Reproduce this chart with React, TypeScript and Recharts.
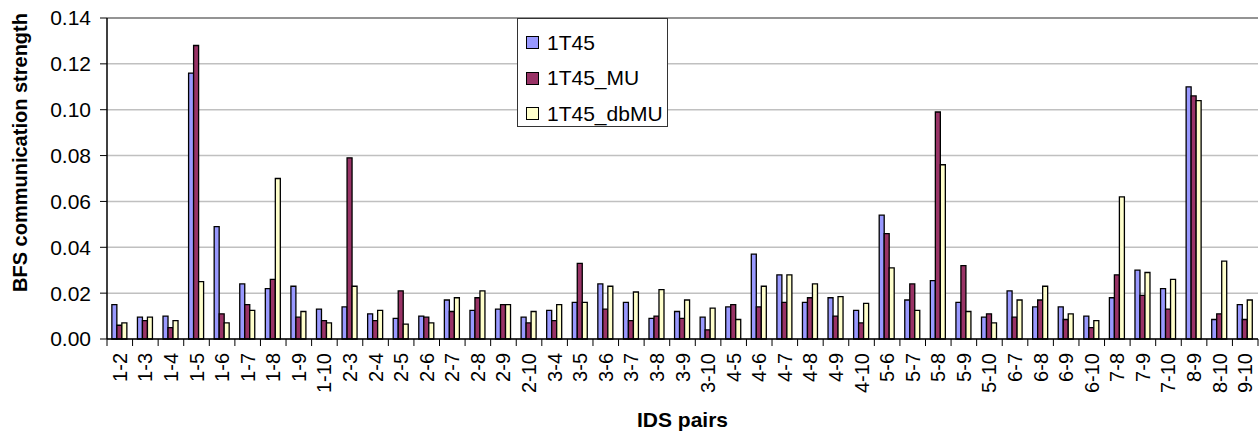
import React from 'react';
import { BarChart, Bar, XAxis, YAxis, CartesianGrid, Legend, ReferenceLine } from 'recharts';

const categories = ['1-2','1-3','1-4','1-5','1-6','1-7','1-8','1-9','1-10','2-3','2-4','2-5','2-6','2-7','2-8','2-9','2-10','3-4','3-5','3-6','3-7','3-8','3-9','3-10','4-5','4-6','4-7','4-8','4-9','4-10','5-6','5-7','5-8','5-9','5-10','6-7','6-8','6-9','6-10','7-8','7-9','7-10','8-9','8-10','9-10'];

const s1T45 = [0.015,0.0095,0.010,0.116,0.049,0.024,0.022,0.023,0.013,0.014,0.011,0.009,0.010,0.017,0.0125,0.013,0.0095,0.0125,0.016,0.024,0.016,0.009,0.012,0.0095,0.014,0.037,0.028,0.016,0.018,0.0125,0.054,0.017,0.0255,0.016,0.0095,0.021,0.014,0.014,0.010,0.018,0.030,0.022,0.110,0.0085,0.015];
const s1T45MU = [0.006,0.008,0.005,0.128,0.011,0.015,0.026,0.0095,0.008,0.079,0.008,0.021,0.0095,0.012,0.018,0.015,0.007,0.008,0.033,0.013,0.008,0.010,0.009,0.004,0.015,0.014,0.016,0.018,0.010,0.007,0.046,0.024,0.099,0.032,0.011,0.0095,0.017,0.0085,0.005,0.028,0.019,0.013,0.106,0.011,0.0085];
const s1T45dbMU = [0.007,0.0095,0.008,0.025,0.007,0.0125,0.070,0.012,0.007,0.023,0.0125,0.0065,0.007,0.018,0.021,0.015,0.012,0.015,0.016,0.023,0.0205,0.0215,0.017,0.0135,0.0085,0.023,0.028,0.024,0.0185,0.0155,0.031,0.0125,0.076,0.012,0.007,0.017,0.023,0.011,0.008,0.062,0.029,0.026,0.104,0.034,0.017];

const yTicks = [0, 0.02, 0.04, 0.06, 0.08, 0.10, 0.12, 0.14];

const seriesNames = ['1T45', '1T45_MU', '1T45_dbMU'];
const seriesColors = ['#9999FF', '#993366', '#FFFFCC'];

const data = categories.map((c, i) => ({
  name: c,
  [seriesNames[0]]: s1T45[i],
  [seriesNames[1]]: s1T45MU[i],
  [seriesNames[2]]: s1T45dbMU[i],
}));

const FONT = 'Liberation Sans, Arial, sans-serif';

const XTick = (props: any) => {
  const { x, y, payload, width, visibleTicksCount } = props;
  const band = width / visibleTicksCount;
  const left = x - band / 2;
  return (
    <g>
      <line x1={left} y1={y - 8} x2={left} y2={y - 1} stroke="#000" strokeWidth={1} />
      {payload.index === visibleTicksCount - 1 ? (
        <line x1={left + band} y1={y - 8} x2={left + band} y2={y - 1} stroke="#000" strokeWidth={1} />
      ) : null}
      <text
        x={0}
        y={0}
        transform={`translate(${x + 7},${y + 6}) rotate(-90)`}
        textAnchor="end"
        fontFamily={FONT}
        fontSize={20}
        fill="#000"
      >
        {payload.value}
      </text>
    </g>
  );
};

const YLabel = (props: any) => {
  const { viewBox } = props;
  const cy = viewBox.y + viewBox.height / 2 - 26;
  return (
    <text
      x={0}
      y={0}
      transform={`translate(20,${cy}) rotate(-90)`}
      textAnchor="middle"
      dominantBaseline="central"
      fontFamily={FONT}
      fontSize={20}
      fontWeight="bold"
      fill="#000"
    >
      BFS communication strength
    </text>
  );
};

const LegendContent = () => (
  <div
    style={{
      width: 151,
      height: 109,
      boxSizing: 'border-box',
      border: '1.5px solid #333',
      background: '#fff',
      fontFamily: FONT,
      fontSize: 21,
      paddingTop: 6,
    }}
  >
    {seriesNames.map((n, i) => (
      <div key={n} style={{ display: 'flex', alignItems: 'center', height: 35.5, paddingLeft: 8 }}>
        <span
          style={{
            display: 'inline-block',
            width: 11,
            height: 11,
            background: seriesColors[i],
            border: '1.5px solid #000',
            marginRight: 8,
          }}
        />
        <span>{n}</span>
      </div>
    ))}
  </div>
);

export default function App() {
  return (
    <div style={{ position: 'absolute', left: 0, top: 0, width: 1260, height: 431, background: '#fff' }}>
      <BarChart
        width={1260}
        height={431}
        data={data}
        margin={{ top: 18, right: 2, bottom: 0, left: 0 }}
        barCategoryGap="19%"
        barGap={0}
      >
        <CartesianGrid vertical={false} stroke="#C0C0C0" strokeWidth={1.5} />
        <XAxis
          dataKey="name"
          interval={0}
          height={92}
          tickLine={false}
          axisLine={{ stroke: '#000', strokeWidth: 1.5 }}
          tick={<XTick />}
          label={{ value: 'IDS pairs', position: 'insideBottom', offset: 4, fontFamily: FONT, fontSize: 21, fontWeight: 'bold', fill: '#000' }}
        />
        <YAxis
          domain={[0, 0.14]}
          ticks={yTicks}
          width={107}
          interval={0}
          tickFormatter={(v: number) => v.toFixed(2)}
          tickLine={{ stroke: '#000' }}
          tickSize={7}
          tickMargin={9}
          axisLine={{ stroke: '#000', strokeWidth: 1.5 }}
          tick={{ fontFamily: FONT, fontSize: 21, fill: '#000' }}
          label={<YLabel />}
        />
        <YAxis yAxisId="frame" orientation="right" width={0} tick={false} tickLine={false} axisLine={{ stroke: '#808080', strokeWidth: 1.5 }} />
        <ReferenceLine y={0.14} stroke="#808080" strokeWidth={1.5} />
        <Legend
          layout="vertical"
          verticalAlign="middle"
          align="center"
          content={<LegendContent />}
          wrapperStyle={{ position: 'absolute', left: 517, top: 18, width: 151, height: 109 }}
        />
        {seriesNames.map((n, i) => (
          <Bar key={n} dataKey={n} fill={seriesColors[i]} stroke="#000" strokeWidth={1.3} isAnimationActive={false} />
        ))}
      </BarChart>
    </div>
  );
}
